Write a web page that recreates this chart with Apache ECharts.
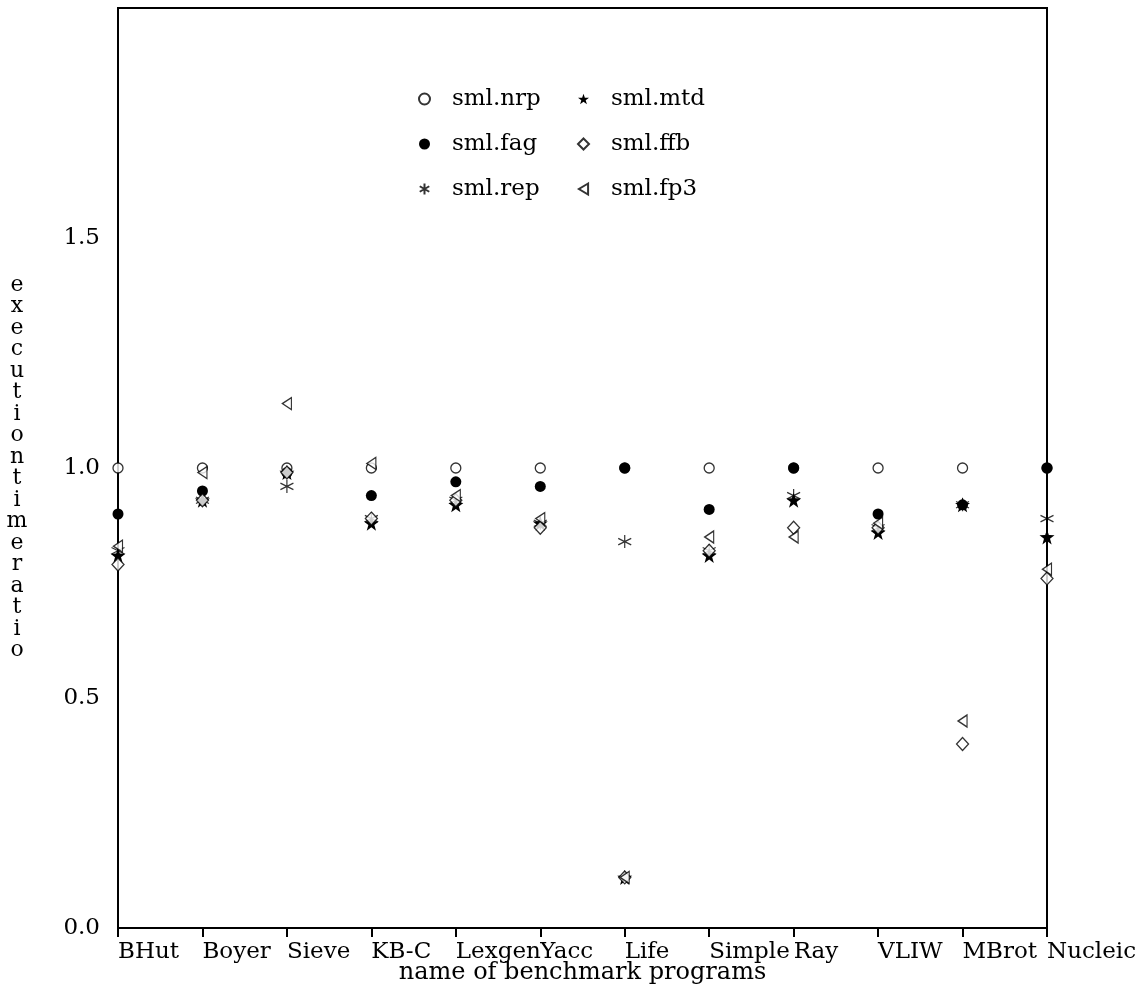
<!DOCTYPE html>
<html>
<head>
<meta charset="utf-8">
<script src="https://cdn.jsdelivr.net/npm/echarts@6/dist/echarts.min.js"></script>
<style>
  html, body { margin: 0; padding: 0; background: #fff; }
  #main { width: 1140px; height: 991px; }
</style>
</head>
<body>
<div id="main"></div>
<script>
// 基准程序
const categories = ['BHut', 'Boyer', 'Sieve', 'KB-C', 'Lexgen', 'Yacc', 'Life', 'Simple', 'Ray', 'VLIW', 'MBrot', 'Nucleic']
const yTicks = [0, 0.5, 1.0, 1.5]

// execution time ratio per variant
const nrp = [1.0, 1.0, 1.0, 1.0, 1.0, 1.0, 1.0, 1.0, 1.0, 1.0, 1.0, 1.0]
const fag = [0.90, 0.95, 0.99, 0.94, 0.97, 0.96, 1.0, 0.91, 1.0, 0.90, 0.92, 1.0]
const rep = [0.82, 0.93, 0.96, 0.89, 0.93, 0.88, 0.84, 0.82, 0.94, 0.87, 0.92, 0.89]
const mtd = [0.81, 0.93, 0.99, 0.88, 0.92, 0.88, 0.11, 0.81, 0.93, 0.86, 0.92, 0.85]
const ffb = [0.79, 0.93, 0.99, 0.89, 0.93, 0.87, 0.11, 0.82, 0.87, 0.87, 0.40, 0.76]
const fp3 = [0.83, 0.99, 1.14, 1.01, 0.94, 0.89, 0.11, 0.85, 0.85, 0.88, 0.45, 0.78]

const FONT = 'DejaVu Serif'
const yName = 'executiontimeratio'.split('').join('\n')

// 标记形状
const ASTERISK = 'path://M0,-10L0,10M-8.66,-5L8.66,5M-8.66,5L8.66,-5'
const STAR = 'path://M0,-10L2.35,-3.24L9.51,-3.09L3.8,1.24L5.88,8.09L0,4L-5.88,8.09L-3.8,1.24L-9.51,-3.09L-2.35,-3.24Z'
const TRI_LEFT = 'path://M10,0L0,6L10,12Z'

const open = { color: '#fff', borderColor: '#000', borderWidth: 1.3 }
const solid = { color: '#000', borderColor: '#000', borderWidth: 0, opacity: 1 }

const mkSeries = (name, data, symbol, size, style, z) => ({
  name,
  type: 'scatter',
  data,
  symbol,
  symbolSize: size,
  itemStyle: style,
  z,
  silent: true,
})

const chart = echarts.init(document.getElementById('main'), null, { renderer: 'canvas' })

const legendBase = {
  orient: 'vertical',
  top: 82,
  padding: 5,
  itemWidth: 11,
  itemHeight: 11,
  itemGap: 21,
  selectedMode: false,
  textStyle: { fontFamily: FONT, fontSize: 23, color: '#000', lineHeight: 24, padding: [0, 0, 0, 17] },
}

chart.setOption({
  animation: false,
  backgroundColor: '#fff',
  textStyle: { fontFamily: FONT },
  grid: {
    left: 118,
    right: 93,
    top: 8,
    bottom: 63,
    outerBoundsMode: 'none',
    containLabel: false,
    show: true,
    borderColor: '#000',
    borderWidth: 2,
  },
  legend: [
    Object.assign({}, legendBase, { left: 413, data: ['sml.nrp', 'sml.fag', 'sml.rep'] }),
    Object.assign({}, legendBase, { left: 572, data: ['sml.mtd', 'sml.ffb', 'sml.fp3'] }),
  ],
  xAxis: {
    type: 'category',
    data: categories,
    boundaryGap: false,
    name: 'name of benchmark programs',
    nameLocation: 'middle',
    nameGap: 33,
    nameMoveOverlap: false,
    nameTextStyle: { fontFamily: FONT, fontSize: 24, color: '#000' },
    axisLine: { lineStyle: { color: '#000', width: 2 } },
    axisTick: { length: 9, lineStyle: { color: '#000', width: 2 } },
    axisLabel: { interval: 0, align: 'left', margin: 13, fontFamily: FONT, fontSize: 23, color: '#000' },
    splitLine: { show: false },
  },
  yAxis: {
    type: 'value',
    min: 0,
    max: 2,
    interval: 0.5,
    name: yName,
    nameLocation: 'middle',
    nameRotate: 0,
    nameGap: 101,
    nameMoveOverlap: false,
    nameTextStyle: { fontFamily: FONT, fontSize: 22, lineHeight: 21.5, color: '#000', align: 'center', verticalAlign: 'middle' },
    axisLine: { lineStyle: { color: '#000', width: 2 } },
    axisTick: { length: 10, customValues: yTicks, lineStyle: { color: '#000', width: 2 } },
    axisLabel: {
      customValues: yTicks,
      margin: 18,
      fontFamily: FONT,
      fontSize: 23,
      color: '#000',
      formatter: (v) => v.toFixed(1),
    },
    splitLine: { show: false },
  },
  series: [
    mkSeries('sml.nrp', nrp, 'circle', 10, open, 2),
    mkSeries('sml.fag', fag, 'circle', 11, solid, 3),
    mkSeries('sml.rep', rep, ASTERISK, 13, { color: '#000', borderColor: '#000', borderWidth: 1.2 }, 4),
    mkSeries('sml.mtd', mtd, STAR, 15, solid, 5),
    mkSeries('sml.ffb', ffb, 'diamond', [12, 13], open, 6),
    mkSeries('sml.fp3', fp3, TRI_LEFT, [9, 12], open, 7),
  ],
})
</script>
</body>
</html>
